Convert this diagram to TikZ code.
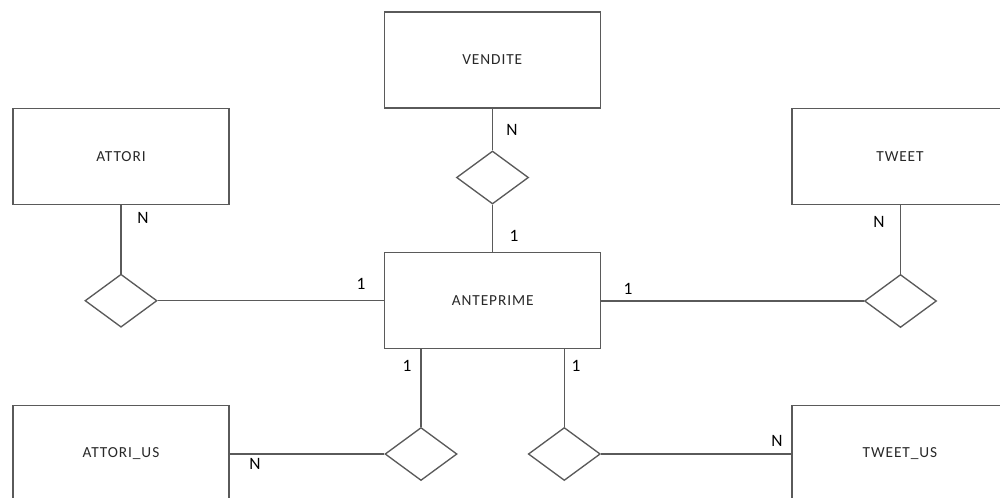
\documentclass[tikz,border=0pt]{standalone}
\usepackage{fontspec}
\setmainfont{Carlito}
\usetikzlibrary{shapes.geometric}
\definecolor{edgegray}{RGB}{90,90,90}
\definecolor{txtgray}{RGB}{40,40,40}
\tikzset{
  entity/.style={draw=edgegray, line width=1pt, rectangle, minimum width=162pt, minimum height=72pt, inner sep=0pt,
    font=\fontsize{11.5}{13}\selectfont\addfontfeature{LetterSpace=6}, text=txtgray},
  relation/.style={draw=edgegray, line width=1pt, diamond, minimum width=54pt, minimum height=39.75pt, inner sep=0pt},
  link/.style={draw=edgegray, line width=1pt},
  card/.style={font=\fontsize{13}{15}\selectfont, text=black, inner sep=0pt}
}
\begin{document}
\begin{tikzpicture}[x=0.75pt,y=-0.75pt]
\useasboundingbox (0,0) rectangle (1000,497);
\clip (0,0) rectangle (1000,497);
\fill[white] (0,0) rectangle (1000,497);
% entities
\node[entity] (vend) at (492.3,60) {VENDITE};
\node[entity] (att) at (121,156.5) {ATTORI};
\node[entity] (tw) at (900,156.5) {TWEET};
\node[entity] (ante) at (492.7,300.5) {ANTEPRIME};
\node[entity] (attus) at (121,453.5) {ATTORI\_US};
\node[entity] (twus) at (900,453.5) {TWEET\_US};
% relations
\node[relation] (dv) at (492.5,177.5) {};
\node[relation] (da) at (121,300.7) {};
\node[relation] (dt) at (900.5,301) {};
\node[relation] (dau) at (421,454) {};
\node[relation] (dtu) at (564.3,454) {};
% connectors
\draw[link] (vend.south -| dv.north) -- (dv.north);
\draw[link] (dv.south) -- (dv.south |- ante.north);
\draw[link] (att.south -| da.north) -- (da.north);
\draw[link] (da.east) -- (ante.west |- da.east);
\draw[link] (tw.south -| dt.north) -- (dt.north);
\draw[link] (dt.west) -- (ante.east |- dt.west);
\draw[link] (ante.south -| dau.north) -- (dau.north);
\draw[link] (dau.west) -- (attus.east |- dau.west);
\draw[link] (ante.south -| dtu.north) -- (dtu.north);
\draw[link] (dtu.east) -- (twus.west |- dtu.east);
% cardinalities
\node[card] (c1) at (512,130) {N};
\node[card] (c2) at (514,236) {1};
\node[card] (c3) at (143,218) {N};
\node[card] (c4) at (361,284) {1};
\node[card] (c5) at (879,222) {N};
\node[card] (c6) at (628,289) {1};
\node[card] (c7) at (407,366) {1};
\node[card] (c8) at (255,464) {N};
\node[card] (c9) at (576,366) {1};
\node[card] (c10) at (777,441) {N};
\end{tikzpicture}
\end{document}
